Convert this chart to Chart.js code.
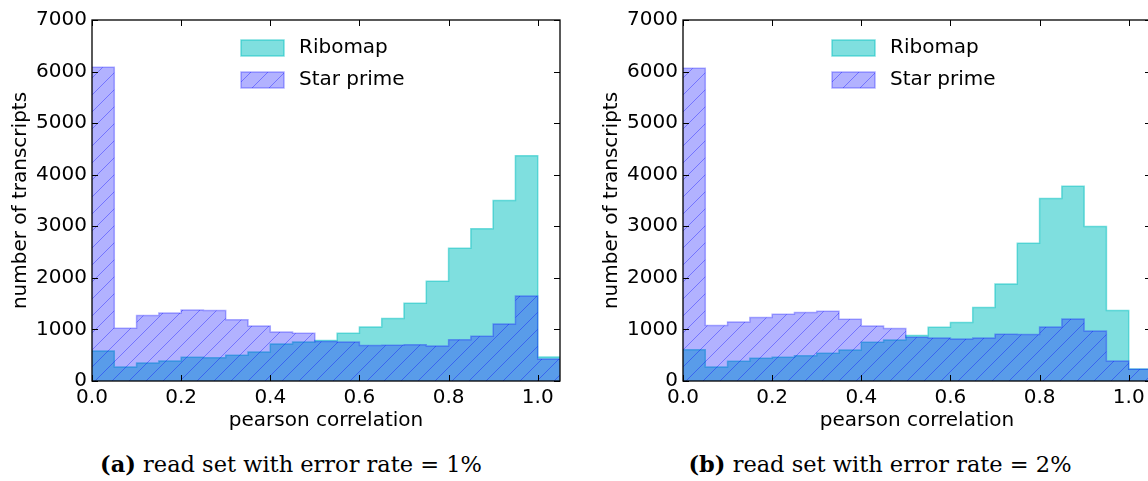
<!DOCTYPE html>
<html lang="en">
<head>
<meta charset="UTF-8">
<title>Ribomap vs Star prime</title>
<script src="https://cdn.jsdelivr.net/npm/chart.js"></script>
<style>
  body { margin: 0; width: 1148px; height: 481px; overflow: hidden; background: #fff; position: relative; }
  .panel { position: absolute; top: 0; }
  .caption { position: absolute; top: 451px; width: 500px; text-align: center;
             font-family: "DejaVu Serif", serif; font-size: 22.5px; color: #000; white-space: nowrap; }
</style>
</head>
<body>
<canvas id="chartA" class="panel" width="575" height="440" style="left:0"></canvas>
<canvas id="chartB" class="panel" width="575" height="440" style="left:591px"></canvas>
<div class="caption" style="left:41px"><b>(a)</b> read set with error rate = 1%</div>
<div class="caption" style="left:630px"><b>(b)</b> read set with error rate = 2%</div>

<script>
// histogram bins (left edges), width 0.05
const binStarts = [0, 0.05, 0.1, 0.15, 0.2, 0.25, 0.3, 0.35, 0.4, 0.45, 0.5,
                   0.55, 0.6, 0.65, 0.7, 0.75, 0.8, 0.85, 0.9, 0.95, 1.0];
const binEnd = 1.05;

const xTicks = [0, 0.2, 0.4, 0.6, 0.8, 1.0];
const yTicks = [0, 1000, 2000, 3000, 4000, 5000, 6000, 7000];

// (a) error rate 1%
const ribomapA = [580, 272, 350, 388, 460, 453, 498, 563, 718, 757, 783,
                  925, 1048, 1210, 1507, 1935, 2575, 2950, 3500, 4367, 466];
const starA    = [6082, 1022, 1268, 1320, 1378, 1365, 1190, 1068, 951, 925, 765,
                  757, 686, 692, 705, 680, 802, 867, 1106, 1650, 427];

// (b) error rate 2%
const ribomapB = [608, 272, 382, 440, 460, 492, 537, 602, 750, 796, 880,
                  1042, 1132, 1423, 1883, 2672, 3539, 3778, 2996, 1365, 235];
const starB    = [6062, 1074, 1145, 1229, 1294, 1326, 1352, 1197, 1068, 1016, 848,
                  835, 815, 835, 906, 900, 1048, 1203, 970, 388, 230];

const FONT = "'DejaVu Sans', sans-serif";

// diagonal '/' hatch on translucent blue
function makeHatch(fill, line, size) {
  const c = document.createElement('canvas');
  c.width = c.height = size;
  const g = c.getContext('2d');
  g.fillStyle = fill;
  g.fillRect(0, 0, size, size);
  g.strokeStyle = line;
  g.lineWidth = 1;
  g.beginPath();
  g.moveTo(0, size); g.lineTo(size, 0);
  g.moveTo(-size / 2, size / 2); g.lineTo(size / 2, -size / 2);
  g.moveTo(size / 2, size * 1.5); g.lineTo(size * 1.5, size / 2);
  g.stroke();
  return g.createPattern(c, 'repeat');
}

// points at the bin edges; the last bin is closed at binEnd
function steps(vals) {
  const pts = binStarts.map((x, i) => ({ x: x, y: vals[i] }));
  pts.push({ x: binEnd, y: vals[vals.length - 1] });
  return pts;
}

// frame with inward ticks on all sides + legend inside the plot
const frameLegend = {
  id: 'frameLegend',
  afterDatasetsDraw(chart) {
    const { ctx, chartArea: a, scales: { x, y } } = chart;
    ctx.save();
    ctx.strokeStyle = '#000';
    ctx.lineWidth = 1;
    ctx.beginPath();
    xTicks.forEach(v => {
      const px = Math.round(x.getPixelForValue(v)) + 0.5;
      ctx.moveTo(px, a.bottom); ctx.lineTo(px, a.bottom - 6);
      ctx.moveTo(px, a.top); ctx.lineTo(px, a.top + 6);
    });
    yTicks.forEach(v => {
      const py = Math.round(y.getPixelForValue(v)) + 0.5;
      ctx.moveTo(a.left, py); ctx.lineTo(a.left + 6, py);
      ctx.moveTo(a.right, py); ctx.lineTo(a.right - 6, py);
    });
    ctx.stroke();
    ctx.lineWidth = 1.3;
    ctx.strokeRect(a.left, a.top, a.right - a.left, a.bottom - a.top);

    // legend (Ribomap first, as in the reference)
    const order = [1, 0];
    ctx.font = '20px ' + FONT;
    ctx.textBaseline = 'middle';
    order.forEach((di, row) => {
      const ds = chart.data.datasets[di];
      const bx = a.left + 149, by = a.top + 20 + row * 32;
      ctx.fillStyle = ds.backgroundColor;
      ctx.fillRect(bx, by, 43, 16);
      ctx.strokeStyle = ds.borderColor;
      ctx.lineWidth = 1.5;
      ctx.strokeRect(bx, by, 43, 16);
      ctx.fillStyle = '#000';
      ctx.fillText(ds.label, bx + 58, by + 8);
    });
    ctx.restore();
  }
};

function makeChart(id, ribo, star) {
  const hatch = makeHatch('rgba(0,0,255,0.3)', 'rgba(0,0,255,0.35)', 17);
  return new Chart(document.getElementById(id), {
    type: 'line',
    data: {
      datasets: [
        {
          label: 'Star prime',
          data: steps(star),
          stepped: 'before',
          fill: 'origin',
          backgroundColor: hatch,
          borderColor: 'rgba(0,0,255,0.3)',
          borderWidth: 1.5,
          pointRadius: 0,
          order: 1
        },
        {
          label: 'Ribomap',
          data: steps(ribo),
          stepped: 'before',
          fill: 'origin',
          backgroundColor: 'rgba(0,191,191,0.5)',
          borderColor: 'rgba(0,191,191,0.5)',
          borderWidth: 1.5,
          pointRadius: 0,
          order: 2
        }
      ]
    },
    options: {
      responsive: false,
      animation: false,
      layout: { padding: { top: 20, right: 15, left: 0, bottom: 0 } },
      plugins: { legend: { display: false }, tooltip: { enabled: false } },
      scales: {
        x: {
          type: 'linear',
          min: 0,
          max: binEnd,
          afterBuildTicks: s => { s.ticks = xTicks.map(v => ({ value: v })); },
          afterFit: s => { s.height = 59; },
          grid: { display: false, drawTicks: false },
          border: { display: false },
          ticks: {
            color: '#000', padding: 5, maxRotation: 0,
            font: { family: FONT, size: 20 },
            callback: v => v.toFixed(1)
          },
          title: {
            display: true, text: 'pearson correlation', color: '#000',
            font: { family: FONT, size: 20 }, padding: { top: 0, bottom: 7 }
          }
        },
        y: {
          min: 0,
          max: 7000,
          afterBuildTicks: s => { s.ticks = yTicks.map(v => ({ value: v })); },
          afterFit: s => { s.width = 92; },
          grid: { display: false, drawTicks: false },
          border: { display: false },
          ticks: {
            color: '#000', padding: 5,
            font: { family: FONT, size: 20 },
            callback: v => String(v)
          },
          title: {
            display: true, text: 'number of transcripts', color: '#000',
            font: { family: FONT, size: 20 }, padding: { top: 9, bottom: 0 }
          }
        }
      }
    },
    plugins: [frameLegend]
  });
}

makeChart('chartA', ribomapA, starA);
makeChart('chartB', ribomapB, starB);
</script>
</body>
</html>
